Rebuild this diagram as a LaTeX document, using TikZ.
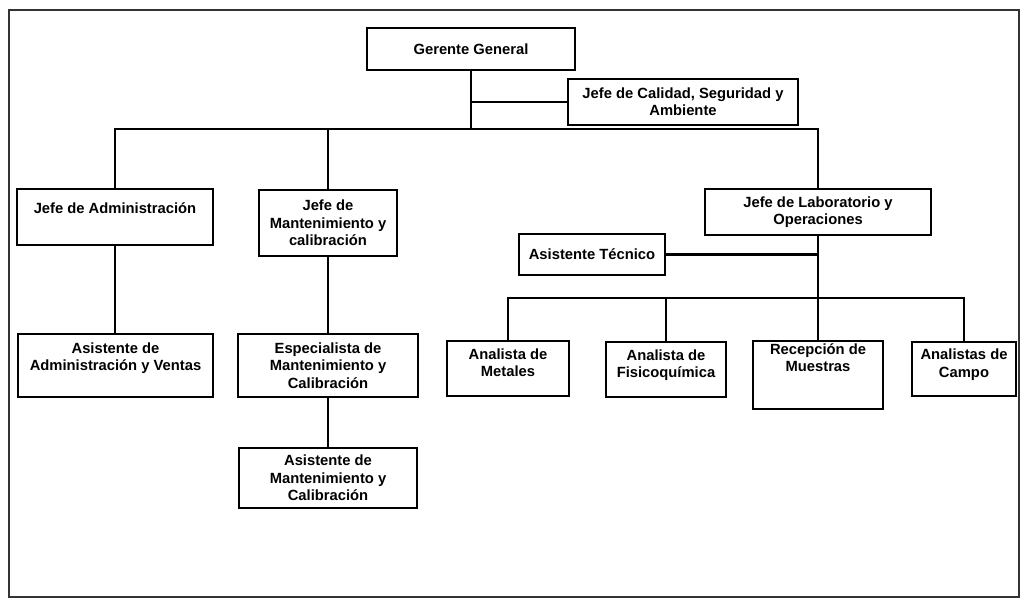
\documentclass[tikz,border=0pt]{standalone}
\usepackage{fontspec}
\setmainfont{Liberation Sans}
\usetikzlibrary{positioning,calc}

\begin{document}
\begin{tikzpicture}[
    x=0.025cm, y=-0.025cm,
    puesto/.style={draw, rectangle, line width=1.5pt, fill=white, align=center, inner sep=2pt,
        font=\bfseries\fontsize{10.5}{12.4}\selectfont},
    linea/.style={line width=1.5pt}
]
    \useasboundingbox (0,0) rectangle (1025,603);
    \draw [line width=1.1pt, gray!40!black] (9,10) rectangle (1019,597);

    % Gerencia
    \node [puesto, minimum width=5.18cm, minimum height=1.05cm] (gerente) at (471,49) {Gerente General};
    \node [puesto, minimum width=5.75cm, minimum height=1.13cm] (calidad) at (683,102) {Jefe de Calidad, Seguridad y\\Ambiente};

    % Jefaturas
    \node [puesto, minimum width=4.9cm, minimum height=1.4cm] (admin) at (115,217) {Jefe de Administraci\'on\\\mbox{}};
    \node [puesto, minimum width=3.43cm, minimum height=1.63cm] (mant) at (328,223) {Jefe de\\Mantenimiento y\\calibraci\'on};
    \node [puesto, minimum width=5.63cm, minimum height=1.15cm] (lab) at (818,212) {Jefe de Laboratorio y\\Operaciones};
    \node [puesto, minimum width=3.65cm, minimum height=1.03cm] (tecnico) at (592,254.5) {Asistente T\'ecnico};

    % Asistentes y especialistas
    \node [puesto, minimum width=4.88cm, minimum height=1.58cm] (asisadm) at (115.5,365.5) {Asistente de\\Administraci\'on y Ventas\\\mbox{}};
    \node [puesto, minimum width=4.48cm, minimum height=1.58cm] (espec) at (328,365.5) {Especialista de\\Mantenimiento y\\Calibraci\'on};
    \node [puesto, minimum width=4.45cm, minimum height=1.5cm] (asismant) at (328,478) {Asistente de\\Mantenimiento y\\Calibraci\'on};

    % Analistas
    \node [puesto, minimum width=3.03cm, minimum height=1.38cm] (metales) at (508,368.5) {Analista de\\Metales\\[-4pt]\mbox{}};
    \node [puesto, minimum width=3cm, minimum height=1.38cm] (fisico) at (666,369.5) {Analista de\\Fisicoqu\'imica\\[-4pt]\mbox{}};
    \node [puesto, minimum width=3.23cm, minimum height=1.7cm] (recep) at (818,375) {Recepci\'on de\\Muestras\\\mbox{}\\\mbox{}};
    \node [puesto, minimum width=2.6cm, minimum height=1.35cm] (campo) at (964,369) {Analistas de\\Campo\\[-4pt]\mbox{}};

    % Lineas
    \coordinate (bus1) at (471,129);
    \coordinate (bus2) at (818,298);
    \draw [linea] (gerente.south) -- (bus1);
    \draw [linea] (calidad.west) -- (calidad.west -| gerente.south);
    \draw [linea] (admin.north) |- (bus1) -| (lab.north);
    \draw [linea] (mant.north) -- (mant.north |- bus1);
    \draw [linea] (admin.south) -- (admin.south |- asisadm.north);
    \draw [linea] (mant.south) -- (mant.south |- espec.north);
    \draw [linea] (espec.south) -- (asismant.north);
    \draw [linea] (lab.south) -- (bus2);
    \draw [linea] (tecnico.east) -- (tecnico.east -| lab.south);
    \draw [linea] (metales.north) |- (bus2) -| (campo.north);
    \draw [linea] (fisico.north) -- (fisico.north |- bus2);
    \draw [linea] (recep.north) -- (bus2);
\end{tikzpicture}
\end{document}
